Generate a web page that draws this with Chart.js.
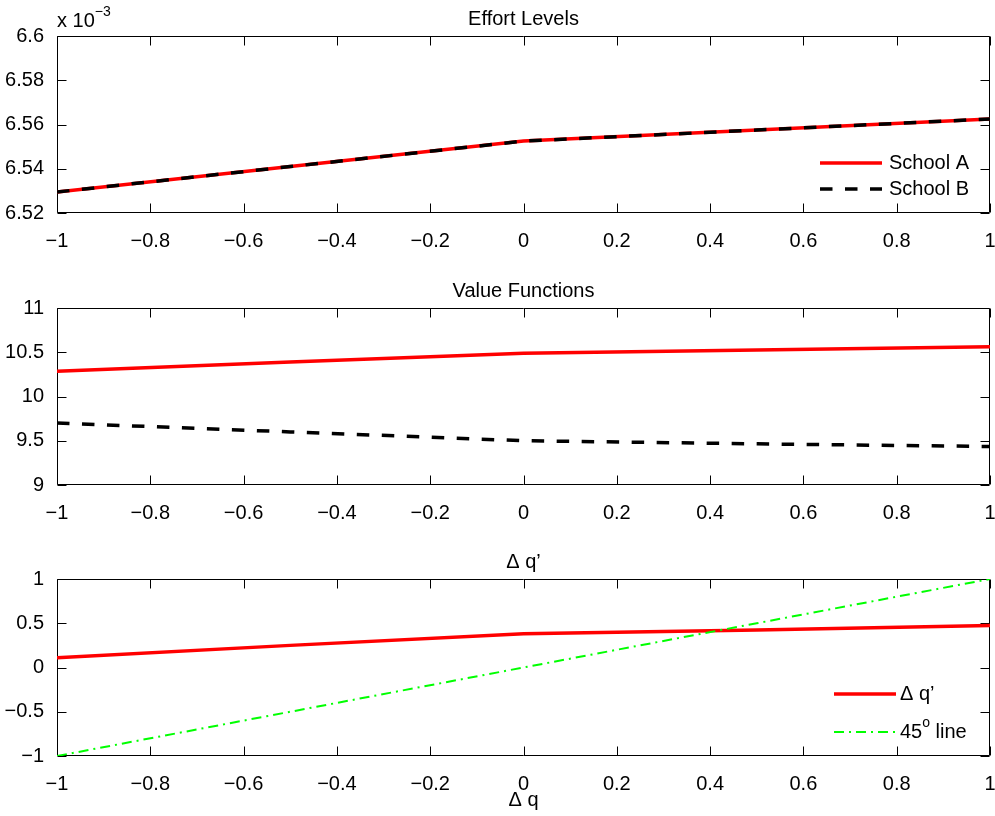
<!DOCTYPE html>
<html><head><meta charset="utf-8">
<script src="https://cdn.jsdelivr.net/npm/chart.js@4.4.1/dist/chart.umd.min.js"></script>
<style>
html,body{margin:0;padding:0;background:#fff;}
body{width:995px;height:816px;position:relative;overflow:hidden;}
canvas{position:absolute;left:0;}
</style></head><body>
<canvas id="c1" width="995" height="253" style="top:0px;width:995px;height:253px"></canvas>
<canvas id="c2" width="995" height="253" style="top:272px;width:995px;height:253px"></canvas>
<canvas id="c3" width="995" height="271" style="top:543px;width:995px;height:271px"></canvas>
<script>
// ---- data ----
const dq = [-1, -0.5, 0, 0.5, 1];                                   // Δq grid
const effortA = [6.5295, 6.5410, 6.5525, 6.5575, 6.5625];          // ×10^-3
const effortB = [6.5295, 6.5410, 6.5525, 6.5575, 6.5625];          // ×10^-3
const valueA  = [10.285, 10.39, 10.49, 10.525, 10.563];
const valueB  = [9.70, 9.60, 9.50, 9.465, 9.435];
const dqPrime = [0.11, 0.25, 0.38, 0.425, 0.475];
const line45  = [-1, -0.5, 0, 0.5, 1];
const xTicks      = [-1, -0.8, -0.6, -0.4, -0.2, 0, 0.2, 0.4, 0.6, 0.8, 1];
const effortTicks = [6.52, 6.54, 6.56, 6.58, 6.6];
const valueTicks  = [9, 9.5, 10, 10.5, 11];
const dqTicks     = [-1, -0.5, 0, 0.5, 1];
const titles = ['Effort Levels', 'Value Functions', 'Δ q’'];
const xLabel = 'Δ q';

const FONT = 'Liberation Sans, Arial, Helvetica, sans-serif';
const fmt = v => { const r = Math.round(v * 10000) / 10000; return (r < 0 ? '\u2212' : '') + String(Math.abs(r)); };
const pts = (xs, ys) => xs.map((x, i) => ({x, y: ys[i]}));

const framePlugin = {
  id: 'frame',
  beforeDatasetsDraw(chart) {
    const {ctx, chartArea: a, scales: {x, y}} = chart;
    const L = Math.round(a.left) + 0.5, R = Math.round(a.right) - 0.5, T = Math.round(a.top) + 0.5, B = Math.round(a.bottom) - 0.5;
    const tl = 9;
    ctx.save();
    ctx.strokeStyle = '#000'; ctx.lineWidth = 1;
    ctx.beginPath();
    ctx.rect(L, T, R - L, B - T);
    x.ticks.forEach(t => {
      const p = Math.round(x.getPixelForValue(t.value)) + 0.5;
      ctx.moveTo(p, B); ctx.lineTo(p, B - tl);
      ctx.moveTo(p, T); ctx.lineTo(p, T + tl);
    });
    y.ticks.forEach(t => {
      const p = Math.round(y.getPixelForValue(t.value)) + 0.5;
      ctx.moveTo(L, p); ctx.lineTo(L + tl, p);
      ctx.moveTo(R, p); ctx.lineTo(R - tl, p);
    });
    ctx.stroke();
    ctx.restore();
  }
};

function drawParts(ctx, parts, x, y) {
  parts.forEach(p => {
    ctx.font = (p.sup ? 14 : 20) + 'px ' + FONT;
    ctx.fillText(p.t, x, p.sup ? y - 9 : y);
    x += ctx.measureText(p.t).width;
  });
}

function legendPlugin(cfg) {
  return {
    id: 'customLegend',
    afterDraw(chart) {
      const ctx = chart.ctx;
      ctx.save();
      ctx.textBaseline = 'middle'; ctx.textAlign = 'left'; ctx.fillStyle = '#000';
      cfg.rows.forEach((row, i) => {
        const ds = chart.data.datasets[row];
        const y = cfg.ys[i];
        ctx.strokeStyle = ds.borderColor; ctx.lineWidth = ds.borderWidth;
        ctx.setLineDash(ds.borderDash || []);
        ctx.beginPath(); ctx.moveTo(cfg.x0, y); ctx.lineTo(cfg.x1, y); ctx.stroke();
        ctx.setLineDash([]);
        drawParts(ctx, ds.labelParts || [{t: ds.label}], cfg.tx, y);
      });
      ctx.restore();
    }
  };
}

const expPlugin = {
  id: 'exponent',
  afterDraw(chart) {
    const ctx = chart.ctx;
    ctx.save();
    ctx.fillStyle = '#000'; ctx.textBaseline = 'middle'; ctx.textAlign = 'left';
    drawParts(ctx, [{t: 'x 10'}, {t: '\u22123', sup: true}], 57, 21);
    ctx.restore();
  }
};

function makeChart(id, datasets, yTicks, title, withXLabel, plugins) {
  const xH = withXLabel ? 58 : 40;
  return new Chart(document.getElementById(id), {
    type: 'line',
    data: {datasets},
    options: {
      responsive: false, animation: false,
      layout: {padding: {left: 0, right: 5, top: 0, bottom: 0}},
      elements: {point: {radius: 0}, line: {tension: 0}},
      plugins: {
        legend: {display: false}, tooltip: {enabled: false},
        title: {display: true, fullSize: false, text: title, color: '#000', font: {family: FONT, size: 20, weight: 'normal'}, padding: {top: 7, bottom: 5}}
      },
      scales: {
        x: {
          type: 'linear', min: -1, max: 1,
          grid: {display: false}, border: {display: false},
          afterBuildTicks: s => { s.ticks = xTicks.map(v => ({value: v})); },
          afterFit: s => { s.height = xH; s.paddingLeft = 0; s.paddingRight = 0; },
          ticks: {color: '#000', font: {family: FONT, size: 20}, padding: 8, maxRotation: 0, autoSkip: false, callback: v => fmt(v)},
          title: {display: withXLabel, text: xLabel, color: '#000', font: {family: FONT, size: 20}, padding: {top: 0, bottom: 2}}
        },
        y: {
          type: 'linear', min: yTicks[0], max: yTicks[yTicks.length - 1],
          grid: {display: false}, border: {display: false},
          afterBuildTicks: s => { s.ticks = yTicks.map(v => ({value: v})); },
          afterFit: s => { s.width = 57; s.paddingTop = 0; s.paddingBottom = 0; },
          ticks: {color: '#000', font: {family: FONT, size: 20}, padding: 5, autoSkip: false, callback: v => fmt(v)}
        }
      }
    },
    plugins: [framePlugin].concat(plugins)
  });
}

makeChart('c1', [
  {label: 'School A', data: pts(dq, effortA), borderColor: '#ff0000', borderWidth: 3.5, order: 1},
  {label: 'School B', data: pts(dq, effortB), borderColor: '#000000', borderWidth: 3.5, borderDash: [12.5, 12.5], order: 0}
], effortTicks, titles[0], false, [legendPlugin({rows: [0, 1], ys: [163, 189], x0: 820, x1: 882, tx: 889}), expPlugin]);

makeChart('c2', [
  {label: 'School A', data: pts(dq, valueA), borderColor: '#ff0000', borderWidth: 3.5, order: 1},
  {label: 'School B', data: pts(dq, valueB), borderColor: '#000000', borderWidth: 3.5, borderDash: [12.5, 12.5], order: 0}
], valueTicks, titles[1], false, []);

makeChart('c3', [
  {label: 'Δ q’', data: pts(dq, dqPrime), borderColor: '#ff0000', borderWidth: 3.5, order: 1},
  {label: '45° line', labelParts: [{t: '45'}, {t: 'o', sup: true}, {t: ' line'}], data: pts(dq, line45), borderColor: '#00ff00', borderWidth: 2, borderDash: [10, 5, 2, 5], order: 0}
], dqTicks, titles[2], true, [legendPlugin({rows: [0, 1], ys: [151, 189], x0: 834, x1: 896, tx: 900})]);
</script>
</body></html>
